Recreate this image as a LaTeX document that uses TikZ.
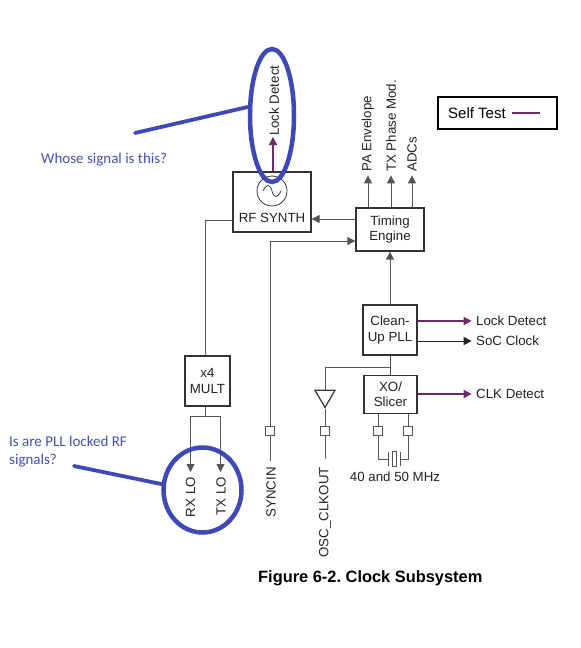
\documentclass[tikz,border=0pt]{standalone}
\usepackage{fontspec}
\setmainfont{Liberation Sans}
\newfontfamily\notefont{Carlito}
\usetikzlibrary{arrows.meta,shapes.geometric}
\definecolor{wire}{HTML}{555555}
\definecolor{boxline}{HTML}{333333}
\definecolor{ink}{HTML}{222222}
\definecolor{plum}{HTML}{6A2C68}
\definecolor{ringblue}{HTML}{3F48B8}
\definecolor{noteblue}{HTML}{4150B4}
\tikzset{
  x=1pt,y=-1pt,
  block/.style={draw=boxline,line width=1.3pt,fill=white,align=center,inner sep=0pt,text=ink,font=\fontsize{13.3}{15.2}\selectfont},
  lbl/.style={inner sep=0pt,text=ink,font=\fontsize{13.3}{15}\selectfont},
  vlbl/.style={lbl,rotate=90,anchor=east},
  vlblup/.style={lbl,rotate=90,anchor=west},
  wirel/.style={draw=wire,line width=0.9pt},
  arrowl/.style={wirel,-{Triangle[length=8pt,width=8pt]}},
  plumarrow/.style={draw=plum,line width=1.5pt,-{Triangle[length=8pt,width=8pt]}},
  pad/.style={draw=wire,line width=0.8pt,fill=white,minimum size=8.5pt,inner sep=0pt},
  ring/.style={draw=ringblue,line width=4.5pt,ellipse,inner sep=0pt},
  note/.style={inner sep=0pt,text=noteblue,anchor=west,font=\notefont\fontsize{15}{18}\selectfont},
}
\begin{document}
\begin{tikzpicture}
\useasboundingbox (0,0) rectangle (581,648);
% blocks
\node[block,minimum width=78pt,minimum height=60pt] (synth) at (272,202) {};
\node[lbl] (synthlabel) at (272,218) {RF SYNTH};
\node[draw=boxline,line width=0.8pt,circle,minimum size=30pt,inner sep=0pt] (osc) at (272,191) {};
\draw[boxline,line width=0.7pt] (263,191) .. controls (267,183) and (270,184) .. (272,191) .. controls (274,198) and (277,199) .. (281,191);
\node[block,minimum width=68pt,minimum height=43pt] (timing) at (390,229.5) {Timing\\Engine};
\node[block,minimum width=54pt,minimum height=50pt] (pll) at (390,330) {Clean-\\Up PLL};
\node[block,minimum width=53pt,minimum height=38pt] (xo) at (390.5,394.5) {XO/\\Slicer};
\node[block,minimum width=45pt,minimum height=50pt] (mult) at (207.5,381) {x4\\MULT};
\node[draw=black,line width=1.3pt,minimum width=119pt,minimum height=32pt,inner sep=0pt] (selftest) at (497.5,113) {};
\node[lbl,anchor=west,font=\fontsize{15}{18}\selectfont,text=black] (selflabel) at (448,113) {Self Test};
\coordinate (selfa) at (512,113);
\coordinate (selfb) at (540,113);
\draw[draw=plum,line width=2.5pt] (selfa) -- (selfb);
% timing outputs
\node[vlblup] (pa) at (368,172) {PA Envelope};
\node[vlblup] (tx) at (391,172) {TX Phase Mod.};
\node[vlblup] (adc) at (412,172) {ADCs};
\draw[arrowl] (timing.north -| pa) -- ++(0,-32);
\draw[arrowl] (timing.north -| tx) -- ++(0,-32);
\draw[arrowl] (timing.north -| adc) -- ++(0,-32);
% lock detect
\node[vlblup] (lock) at (274,136) {Lock Detect};
\draw[plumarrow] (synth.north -| 273,0) -- (273,137);
% links
\draw[arrowl] (timing.west |- 0,219) -- (synth.east |- 0,219);
\draw[arrowl] (pll.north) -- (timing.south);
\draw[wirel] (pll.south) -- (xo.north -| pll);
% syncin
\node[pad] (padsync) at (270,431) {};
\node[vlbl,anchor=east] (sync) at (271,467) {SYNCIN};
\coordinate (syncend) at (270,461);
\coordinate (synccorner) at (270,241);
\draw[wirel] (syncend) -- (padsync);
\draw[arrowl] (padsync) -- (synccorner) -- (timing.west |- synccorner);
% osc out
\node[draw=boxline,line width=1.2pt,fill=white,regular polygon,regular polygon sides=3,shape border rotate=180,minimum size=23pt,inner sep=0pt] (buf) at (325,396) {};
\node[pad] (padosc) at (325,431) {};
\node[vlbl] (osclabel) at (325,467) {OSC\_CLKOUT};
\coordinate (oscend) at (325,459);
\coordinate (osccorner) at (325,367);
\coordinate (oscjoin) at (390,367);
\draw[wirel] (oscjoin) -- (osccorner) -- (buf.north);
\draw[wirel] (buf.south) -- (padosc);
\draw[wirel] (padosc) -- (oscend);
% pll outputs
\node[lbl,anchor=west] (lockr) at (476,321) {Lock Detect};
\node[lbl,anchor=west] (soc) at (476,341) {SoC Clock};
\node[lbl,anchor=west] (clk) at (476,394) {CLK Detect};
\draw[plumarrow] (pll.east |- lockr) -- ++(54,0);
\draw[arrowl,draw=ink] (pll.east |- soc) -- ++(54,0);
\draw[plumarrow] (xo.east |- clk) -- ++(54,0);
% crystal
\node[pad] (pada) at (378,431) {};
\node[pad] (padb) at (408,431) {};
\node[draw=wire,line width=0.8pt,fill=white,minimum width=4pt,minimum height=15pt,inner sep=0pt] (xtal) at (394,459) {};
\coordinate (plata) at (388,459);
\coordinate (platb) at (400,459);
\draw[wirel] (xo.south -| pada) -- (pada);
\draw[wirel] (xo.south -| padb) -- (padb);
\draw[wirel] (pada) -- (pada |- plata) -- (plata);
\draw[wirel] (padb) -- (padb |- platb) -- (platb);
\draw[wirel] ([yshift=-7pt]plata) -- ([yshift=7pt]plata);
\draw[wirel] ([yshift=-7pt]platb) -- ([yshift=7pt]platb);
\node[lbl] (xtallabel) at (395,477) {40 and 50 MHz};
% mult
\coordinate (rfcorner) at (205,220);
\draw[wirel] (synth.west |- rfcorner) -- (rfcorner) -- (rfcorner |- mult.north);
\coordinate (split) at (205.5,416);
\coordinate (splitl) at (190.5,416);
\coordinate (splitr) at (220.5,416);
\node[vlbl] (rxlo) at (190.5,477) {RX LO};
\node[vlbl] (txlo) at (221,477) {TX LO};
\draw[wirel] (mult.south -| split) -- (split);
\draw[arrowl] (split) -- (splitl) -- (190.5,472);
\draw[arrowl] (split) -- (splitr) -- (220.5,472);
% caption
\node[inner sep=0pt,anchor=west,font=\bfseries\fontsize{16.4}{19}\selectfont] (caption) at (258,578) {\frenchspacing Figure 6-2. Clock Subsystem};
% annotations
\node[ring,minimum width=44pt,minimum height=133pt] (ringa) at (272,115.5) {};
\node[ring,minimum width=78pt,minimum height=85pt] (ringb) at (202.5,490) {};
\coordinate (tailA) at (135,133);
\coordinate (tailB) at (74,466);
\draw[ringblue,line width=3.8pt,line cap=round] (tailA) -- (ringa.west |- 0,107);
\draw[ringblue,line width=3.8pt,line cap=round] (tailB) -- (ringb.west |- 0,484);
\node[note] (q1) at (41,160) {Whose signal is this?};
\node[note,align=left] (q2) at (9,452) {Is are PLL locked RF\\signals?};
\end{tikzpicture}
\end{document}
